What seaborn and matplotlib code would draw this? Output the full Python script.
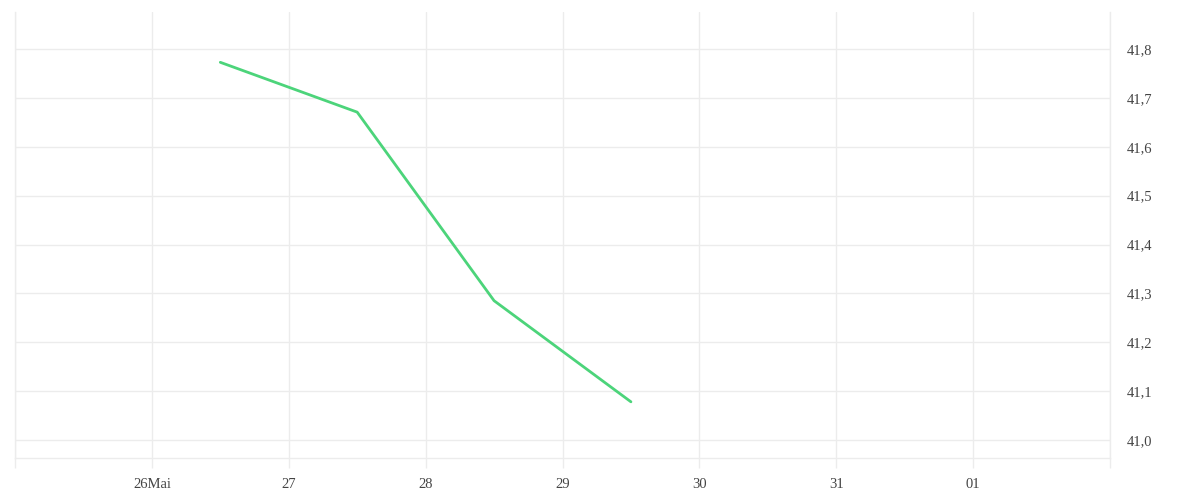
import pandas as pd
import seaborn as sns
import matplotlib.pyplot as plt
import matplotlib.dates as mdates

# values (taken at midday)
dates = ["2024-05-26 12:00", "2024-05-27 12:00", "2024-05-28 12:00", "2024-05-29 12:00"]
values = [41.773, 41.671, 41.285, 41.078]

tick_days = pd.date_range("2024-05-25", "2024-06-02", freq="D")
tick_labels = ["", "26Mai", "27", "28", "29", "30", "31", "01", ""]
y_ticks = [41.0, 41.1, 41.2, 41.3, 41.4, 41.5, 41.6, 41.7, 41.8]

df = pd.DataFrame({"date": pd.to_datetime(dates), "value": values})

sns.set_style("white")
plt.rcParams["font.family"] = ["Liberation Serif", "DejaVu Serif"]

grid_col = "#ececec"
fig = plt.figure(figsize=(12, 5), dpi=100)
ax = fig.add_axes([0.0125, 0.084, 0.9125, 0.892])

sns.lineplot(data=df, x="date", y="value", color="#4cd47a", linewidth=2, ax=ax)

ax.set_xlim(tick_days[0], tick_days[-1])
ax.set_ylim(40.963, 41.876)
ax.set_xticks(tick_days)
ax.set_xticklabels(tick_labels)
ax.set_yticks(y_ticks)
ax.set_yticklabels([f"{v:.1f}".replace(".", ",") for v in y_ticks])

ax.grid(True, color=grid_col, linewidth=1)
ax.set_axisbelow(True)
ax.yaxis.tick_right()
ax.tick_params(axis="y", length=0, pad=12, labelsize=10.5, labelcolor="#444444")
ax.tick_params(axis="x", bottom=True, length=7.5, width=1, color=grid_col, pad=7,
               labelsize=10.5, labelcolor="#444444")

for side in ["left", "right", "bottom"]:
    ax.spines[side].set_color(grid_col)
    ax.spines[side].set_linewidth(1)
ax.spines["top"].set_visible(False)

ax.set_xlabel("")
ax.set_ylabel("")

plt.savefig("out.png", dpi=100)
